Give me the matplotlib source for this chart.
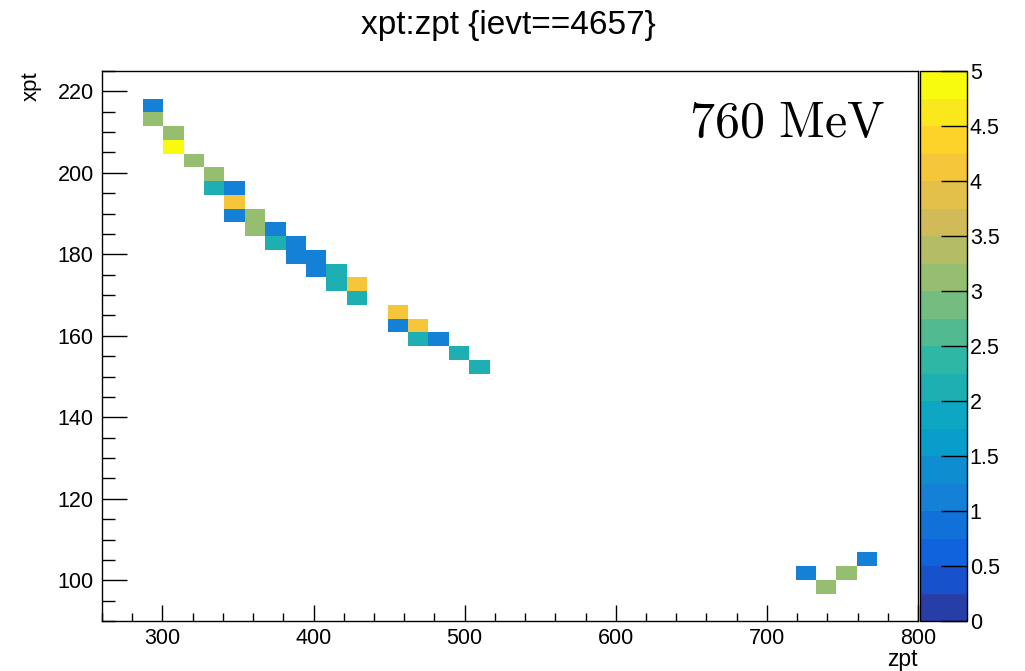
import numpy as np
import matplotlib
matplotlib.use("Agg")
import matplotlib.pyplot as plt
from matplotlib.colors import LinearSegmentedColormap, ListedColormap, BoundaryNorm
from matplotlib.ticker import MultipleLocator, FormatStrFormatter

plt.rcParams['font.family'] = ['Liberation Sans', 'DejaVu Sans']
plt.rcParams['mathtext.fontset'] = 'cm'

# hits for ievt==4657 (bin centres)
zpt = [293.8, 293.8, 307.3, 307.3, 320.8, 334.3, 334.3, 347.8, 347.8, 347.8,
       361.3, 361.3, 374.8, 374.8, 388.3, 388.3, 401.8, 401.8, 415.3, 415.3,
       428.8, 428.8, 455.8, 455.8, 469.3, 469.3, 482.8, 496.3, 509.8,
       725.8, 739.3, 752.8, 766.3]
xpt = [216.6, 213.2, 209.8, 206.4, 203.1, 199.7, 196.3, 196.3, 192.9, 189.6,
       189.6, 186.2, 186.2, 182.8, 182.8, 179.4, 179.4, 176.1, 176.1, 172.7,
       172.7, 169.3, 165.9, 162.6, 162.6, 159.2, 159.2, 155.8, 152.4,
       101.8, 98.4, 101.8, 105.2]
counts = [1, 3, 3, 5, 3, 3, 2, 1, 4, 1,
          3, 3, 1, 2, 1, 1, 1, 1, 2, 2,
          4, 2, 4, 1, 4, 2, 1, 2, 2,
          1, 3, 3, 1]

# ROOT kBird palette
stops = [0.0, 0.125, 0.25, 0.375, 0.5, 0.625, 0.75, 0.875, 1.0]
red = [0.2082, 0.0592, 0.0780, 0.0232, 0.1802, 0.5301, 0.8186, 0.9956, 0.9764]
green = [0.1664, 0.3599, 0.5041, 0.6419, 0.7178, 0.7492, 0.7328, 0.7862, 0.9832]
blue = [0.5293, 0.8684, 0.8385, 0.7914, 0.6425, 0.4662, 0.3499, 0.1968, 0.0539]
bird = LinearSegmentedColormap.from_list(
    'bird', list(zip(stops, zip(red, green, blue))), N=255)
ndiv = 20
bands = [bird(int((i + 0.99) * 255 / ndiv)) for i in range(ndiv)]
cmap = ListedColormap(bands)
norm = BoundaryNorm(np.linspace(0, 5, ndiv + 1), ndiv)

fig = plt.figure(figsize=(10.25, 6.71), dpi=100)
ax = fig.add_axes([102 / 1025, 50 / 671, 816 / 1025, 550 / 671])
cax = fig.add_axes([920 / 1025, 50 / 671, 47 / 1025, 550 / 671])

h = ax.hist2d(zpt, xpt, bins=[40, 40], range=[[260, 800], [90, 225]],
              weights=counts, cmap=cmap, norm=norm, cmin=0.5)

ax.set_xlim(260, 800)
ax.set_ylim(90, 225)
ax.xaxis.set_major_locator(MultipleLocator(100))
ax.xaxis.set_minor_locator(MultipleLocator(20))
ax.yaxis.set_major_locator(MultipleLocator(20))
ax.yaxis.set_minor_locator(MultipleLocator(5))
ax.tick_params(axis='both', which='both', direction='in', labelsize=15.5, width=1)
ax.tick_params(axis='x', which='major', length=11.5, pad=5)
ax.tick_params(axis='x', which='minor', length=5.8)
ax.tick_params(axis='y', which='major', length=18, pad=6)
ax.tick_params(axis='y', which='minor', length=9.4)
for s in ax.spines.values():
    s.set_linewidth(1)

ax.set_xlabel('zpt', fontsize=16.5, loc='right', labelpad=-1)
ax.set_ylabel('xpt', fontsize=16, loc='top', labelpad=11)

ax.text(0.960, 0.881, r'$\mathrm{760\ MeV}$', transform=ax.transAxes,
        ha='right', va='baseline', fontsize=36)

fig.text(0.496, 0.95, 'xpt:zpt {ievt==4657}', ha='center', va='baseline', fontsize=24)

cb = fig.colorbar(h[3], cax=cax, ticks=np.arange(0, 5.01, 0.5))
cb.ax.yaxis.set_major_formatter(FormatStrFormatter('%g'))
cb.ax.tick_params(direction='in', length=19, width=1, labelsize=15.5, pad=2)
cb.outline.set_linewidth(1)
cb.ax.minorticks_off()

fig.savefig('out.png', dpi=100)
